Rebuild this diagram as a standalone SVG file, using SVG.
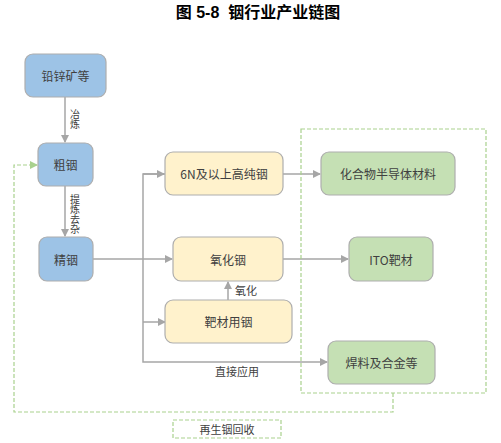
<svg xmlns="http://www.w3.org/2000/svg" width="501" height="443" viewBox="0 0 501 443">
<defs>
<style>
.title{font-family:"Liberation Sans","Noto Sans CJK SC",sans-serif;font-weight:bold;font-size:16px;fill:#000}
.node rect{stroke:#AEAEAE;stroke-width:1.2}
.blue rect{fill:#9DC3E6}
.yellow rect{fill:#FFF2CC}
.green rect{fill:#C5E0B4}
.node text{font-family:"Noto Sans CJK SC",sans-serif;font-size:12px;fill:#404040;text-anchor:middle;dominant-baseline:central}
.lbl{font-family:"Noto Sans CJK SC",sans-serif;font-size:11px;fill:#404040}
.vl{font-family:"Noto Sans CJK SC",sans-serif;font-size:10px;fill:#404040;writing-mode:vertical-rl;text-orientation:upright;glyph-orientation-vertical:0}
.conn{stroke:#A6A6A6;stroke-width:1.5;fill:none}
.dash{stroke:#A9D18E;stroke-width:1.2;fill:none;stroke-dasharray:4 2}
</style>
<marker id="ah" markerWidth="8" markerHeight="8" refX="7" refY="4" orient="auto" markerUnits="userSpaceOnUse">
<path d="M0,0 L8,4 L0,8 z" fill="#A6A6A6"/>
</marker>
<marker id="ahg" markerWidth="8" markerHeight="8" refX="7" refY="4" orient="auto" markerUnits="userSpaceOnUse">
<path d="M0,0 L8,4 L0,8 z" fill="#A9D18E"/>
</marker>
</defs>
<rect width="501" height="443" fill="#fff"/>
<text class="title" x="258" y="18" text-anchor="middle" xml:space="preserve">图 5-8  铟行业产业链图</text>

<g id="connectors">
<path class="conn" d="M65,97 V142" marker-end="url(#ah)"/>
<path class="conn" d="M65,186 V236" marker-end="url(#ah)"/>
<path class="conn" d="M93,259 H172" marker-end="url(#ah)"/>
<path class="conn" d="M165,174 H143 V362 H327" marker-end="url(#ah)"/>
<path class="conn" d="M143,174 H164" marker-end="url(#ah)"/>
<path class="conn" d="M143,322 H165" marker-end="url(#ah)"/>
<path class="conn" d="M283,174 H320" marker-end="url(#ah)"/>
<path class="conn" d="M283,259 H348" marker-end="url(#ah)"/>
<path class="conn" d="M228,300 V282" marker-end="url(#ah)"/>
<path class="dash" d="M393,393 V412 H14 V165 H37" marker-end="url(#ahg)"/>
<text class="vl" x="75" y="109">冶炼</text>
<text class="vl" x="75" y="194">提炼去杂</text>
<text class="lbl" x="235" y="295">氧化</text>
<text class="lbl" x="215" y="376">直接应用</text>
</g>

<rect id="group-downstream" class="dash" x="301" y="129" width="185" height="264"/>

<g id="n-ore" class="node blue"><rect x="25" y="54" width="81" height="43" rx="8"/><text x="65.5" y="75.5">铅锌矿等</text></g>
<g id="n-crude" class="node blue"><rect x="38" y="143" width="55" height="43" rx="8"/><text x="65.5" y="164.5">粗铟</text></g>
<g id="n-refined" class="node blue"><rect x="39" y="237" width="54" height="44" rx="8"/><text x="66" y="259">精铟</text></g>
<g id="n-6n" class="node yellow"><rect x="165" y="152" width="118" height="43" rx="8"/><text x="224" y="173.5">6N及以上高纯铟</text></g>
<g id="n-oxide" class="node yellow"><rect x="173" y="237" width="110" height="44" rx="8"/><text x="228" y="259">氧化铟</text></g>
<g id="n-target" class="node yellow"><rect x="165" y="300" width="127" height="43" rx="8"/><text x="228.5" y="321.5">靶材用铟</text></g>
<g id="n-semi" class="node green"><rect x="321" y="152" width="134" height="43" rx="8"/><text x="388" y="173.5">化合物半导体材料</text></g>
<g id="n-ito" class="node green"><rect x="349" y="237" width="84" height="44" rx="8"/><text x="391" y="259">ITO靶材</text></g>
<g id="n-solder" class="node green"><rect x="328" y="341" width="107" height="43" rx="8"/><text x="381.5" y="362.5">焊料及合金等</text></g>
<g id="n-recycle"><rect class="dash" x="173" y="420" width="108" height="18"/><text class="lbl" x="227" y="433.5" text-anchor="middle" font-size="12">再生铟回收</text></g>
</svg>
